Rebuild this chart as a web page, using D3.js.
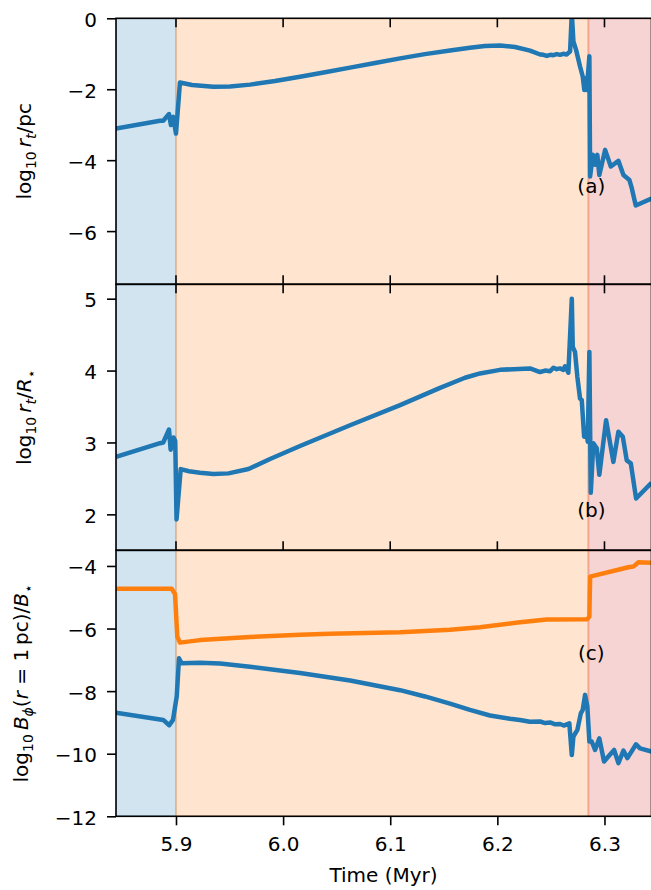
<!DOCTYPE html>
<html>
<head>
<meta charset="utf-8">
<script src="https://cdn.jsdelivr.net/npm/d3@7"></script>
<style>
  body { margin: 0; background: #fff; }
  svg text { font-family: "DejaVu Sans", sans-serif; fill: #000; }
</style>
</head>
<body>
<svg id="fig" width="651" height="890"></svg>
<script>
// ---- data -------------------------------------------------------------
const xTicks = [5.9, 6.0, 6.1, 6.2, 6.3];
const timeRange = [5.844, 6.3439];

// evolutionary phases (shaded bands)
const phaseStart = [5.844, 5.9, 6.285];
const phaseEnd = [5.9, 6.285, 6.3439];

// (a) log10 r_t / pc
const timeRt = [5.8440, 5.8851, 5.8881, 5.8935, 5.8953, 5.8975, 5.9000, 5.9037, 5.9150, 5.9348,
  5.9504, 5.9691, 5.9924, 6.0158, 6.0391, 6.0625, 6.0858, 6.1092, 6.1324, 6.1558, 6.1744, 6.1884,
  6.2025, 6.2165, 6.2305, 6.2399, 6.2430, 6.2461, 6.2495, 6.2523, 6.2555, 6.2585, 6.2615, 6.2648,
  6.2679, 6.2695, 6.2710, 6.2735, 6.2772, 6.2797, 6.2812, 6.2825, 6.2835, 6.2859, 6.2866, 6.2891,
  6.2912, 6.2933, 6.2952, 6.3006, 6.3059, 6.3130, 6.3177, 6.3233, 6.3255, 6.3292, 6.3439];
const logRtPc = [-3.11, -2.89, -2.89, -2.70, -3.01, -2.78, -3.25, -1.81, -1.88, -1.93,
  -1.92, -1.87, -1.77, -1.65, -1.52, -1.39, -1.26, -1.13, -1.01, -0.91, -0.83, -0.78,
  -0.77, -0.81, -0.91, -1.02, -1.03, -1.06, -1.03, -1.04, -1.01, -1.03, -1.00, -1.02,
  -0.93, 0.15, -0.65, -0.89, -1.36, -1.64, -2.02, -1.69, -2.02, -1.07, -4.46, -3.85,
  -4.13, -3.85, -4.42, -3.71, -4.18, -4.02, -4.42, -4.56, -4.79, -5.28, -5.08];

// (b) log10 r_t / R_star
const timeRs = [5.8440, 5.8851, 5.8881, 5.8935, 5.8950, 5.8977, 5.8993, 5.9005, 5.9044, 5.9121,
  5.9224, 5.9350, 5.9490, 5.9677, 5.9878, 6.0158, 6.0625, 6.1092, 6.1465, 6.1698, 6.1838, 6.2025,
  6.2305, 6.2399, 6.2446, 6.2492, 6.2523, 6.2554, 6.2585, 6.2616, 6.2632, 6.2663, 6.2695, 6.2704,
  6.2725, 6.2747, 6.2772, 6.2788, 6.2810, 6.2829, 6.2844, 6.2859, 6.2872, 6.2896, 6.2928, 6.2952,
  6.3015, 6.3083, 6.3130, 6.3171, 6.3208, 6.3246, 6.3295, 6.3439];
const logRtRstar = [2.80, 2.99, 3.00, 3.18, 2.90, 3.07, 3.02, 1.93, 2.63, 2.60,
  2.58, 2.56, 2.57, 2.63, 2.77, 2.95, 3.24, 3.52, 3.76, 3.90, 3.96, 4.01,
  4.03, 3.98, 4.00, 3.99, 4.04, 4.02, 4.03, 4.01, 4.06, 3.97, 5.00, 4.33,
  4.26, 3.91, 3.61, 3.59, 3.08, 3.17, 3.01, 4.26, 2.30, 2.99, 2.92, 2.55,
  3.31, 2.73, 3.15, 3.08, 2.75, 2.71, 2.22, 2.44];

// (c) log10 B_phi(r = 1 pc) / B_star, two field estimates
const timeBphiA = [5.8440, 5.8881, 5.8937, 5.8972, 5.9007, 5.9028, 5.9053, 5.9224, 5.9411, 5.9691,
  6.0158, 6.0625, 6.1092, 6.1324, 6.1558, 6.1744, 6.1931, 6.2118, 6.2211, 6.2305, 6.2399, 6.2446,
  6.2492, 6.2540, 6.2585, 6.2620, 6.2672, 6.2695, 6.2710, 6.2747, 6.2779, 6.2797, 6.2819, 6.2840,
  6.2859, 6.2881, 6.2912, 6.2952, 6.2996, 6.3036, 6.3090, 6.3130, 6.3177, 6.3214, 6.3295, 6.3332,
  6.3439];
const logBphiA = [-8.69, -8.92, -9.09, -8.92, -8.17, -6.95, -7.11, -7.09, -7.12, -7.22,
  -7.42, -7.66, -7.97, -8.17, -8.40, -8.60, -8.78, -8.88, -8.92, -8.98, -8.97, -9.02,
  -9.00, -9.06, -9.05, -9.10, -9.03, -10.04, -9.45, -9.24, -8.71, -8.60, -8.12, -8.49,
  -9.61, -9.61, -9.88, -9.51, -10.25, -10.09, -9.88, -10.30, -9.90, -10.14, -9.70, -9.83,
  -9.93];

const timeBphiB = [5.8440, 5.8960, 5.8991, 5.9012, 5.9037, 5.9224, 5.9691, 6.0158, 6.0439, 6.1092,
  6.1558, 6.1838, 6.2211, 6.2461, 6.2840, 6.2859, 6.2866, 6.3223, 6.3270, 6.3317, 6.3439];
const logBphiB = [-4.73, -4.73, -4.90, -6.26, -6.45, -6.37, -6.27, -6.20, -6.17, -6.12,
  -6.04, -5.96, -5.80, -5.71, -5.70, -5.62, -4.34, -4.04, -4.02, -3.88, -3.90];

const yTicksA = [0, -2, -4, -6];
const yTicksB = [2, 3, 4, 5];
const yTicksC = [-4, -6, -8, -10, -12];
const panelTags = ["(a)", "(b)", "(c)"];

// ---- layout -----------------------------------------------------------
const phaseColors = ["#1f77b4", "#ff7f0e", "#d62728"];
const lineColors = ["#1f77b4", "#ff7f0e"];
const left = 116, right = 651.5;
const panelTop = [18.3, 284.3, 550.3];
const panelH = 266;

const svg = d3.select("#fig");
const x = d3.scaleLinear().domain(timeRange).range([left, right]);

const panels = [
  { domain: [-7.5, 0], ticks: yTicksA, series: [[timeRt, logRtPc]], tag: [6.2877, -4.92] },
  { domain: [1.5, 5.2], ticks: yTicksB, series: [[timeRs, logRtRstar]], tag: [6.2877, 1.96] },
  { domain: [-12, -3.5], ticks: yTicksC, series: [[timeBphiA, logBphiA], [timeBphiB, logBphiB]], tag: [6.2877, -7.0] }
];

panels.forEach((p, i) => {
  const top = panelTop[i], bottom = top + panelH;
  const y = d3.scaleLinear().domain(p.domain).range([bottom, top]);
  const g = svg.append("g");
  const clipId = "clip" + i;
  svg.append("clipPath").attr("id", clipId)
    .append("rect").attr("x", left).attr("y", top).attr("width", right - left).attr("height", panelH);

  // phase bands, filled and edged with the same translucent colour
  const bands = g.append("g").attr("clip-path", `url(#${clipId})`);
  phaseStart.forEach((s, k) => {
    bands.append("rect")
      .attr("x", x(s)).attr("y", top)
      .attr("width", x(phaseEnd[k]) - x(s)).attr("height", panelH)
      .attr("fill", phaseColors[k]).attr("fill-opacity", 0.2)
      .attr("stroke", phaseColors[k]).attr("stroke-opacity", 0.2).attr("stroke-width", 2);
  });

  // curves
  const line = d3.line().x(d => x(d[0])).y(d => y(d[1]));
  const lines = g.append("g").attr("clip-path", `url(#${clipId})`);
  p.series.forEach((s, k) => {
    const pts = s[0].map((t, j) => [t, s[1][j]]);
    lines.append("path").datum(pts)
      .attr("d", line).attr("fill", "none")
      .attr("stroke", lineColors[k]).attr("stroke-width", 4.5)
      .attr("stroke-linejoin", "round").attr("stroke-linecap", "butt");
  });

  // panel tag
  g.append("text").attr("x", x(p.tag[0])).attr("y", y(p.tag[1]))
    .attr("text-anchor", "middle").attr("font-size", 20).text(panelTags[i]);

  // y axis
  const ya = g.append("g").attr("transform", `translate(${left},0)`)
    .call(d3.axisLeft(y).tickValues(p.ticks).tickFormat(d3.format("d")).tickSize(9).tickPadding(10));
  ya.select(".domain").remove();
  ya.selectAll(".tick line").attr("stroke", "#000").attr("stroke-width", 1.6);
  ya.selectAll(".tick text").attr("font-size", 20).attr("font-family", "DejaVu Sans").attr("dy", "0.4em");

  // frame
  g.append("rect").attr("x", left).attr("y", top).attr("width", right - left).attr("height", panelH)
    .attr("fill", "none").attr("stroke", "#000").attr("stroke-width", 1.6);
});

// time ticks along the panel edges
const edgeTicks = [[18.3, 27.3], [275.3, 293.3], [541.3, 550.3]];
edgeTicks.forEach(([a, b]) => {
  svg.append("g").selectAll("line").data(xTicks).join("line")
    .attr("x1", d => x(d)).attr("x2", d => x(d)).attr("y1", a).attr("y2", b)
    .attr("stroke", "#000").attr("stroke-width", 1.6);
});

// bottom time axis
const bottomY = panelTop[2] + panelH;
const xa = svg.append("g").attr("transform", `translate(0,${bottomY})`)
  .call(d3.axisBottom(x).tickValues(xTicks).tickFormat(d3.format(".1f")).tickSize(9).tickPadding(12));
xa.select(".domain").remove();
xa.selectAll(".tick line").attr("stroke", "#000").attr("stroke-width", 1.6);
xa.selectAll(".tick text").attr("font-size", 20).attr("font-family", "DejaVu Sans");

svg.append("text").attr("x", (left + 651) / 2).attr("y", 882)
  .attr("text-anchor", "middle").attr("font-size", 20).text("Time (Myr)");

// y-axis labels in math style
function mathLabel(cx, cy, parts) {
  const t = svg.append("text")
    .attr("transform", `translate(${cx},${cy}) rotate(-90)`)
    .attr("text-anchor", "middle").attr("font-size", 20);
  let shift = 0;
  parts.forEach(pt => {
    const ts = t.append("tspan").text(pt.s);
    const target = pt.sub ? 5 : 0;
    if (target !== shift) { ts.attr("dy", target - shift); shift = target; }
    if (pt.sub) ts.attr("font-size", 14);
    if (pt.it) ts.attr("font-style", "italic");
    if (pt.dx) ts.attr("dx", pt.dx);
  });
}
mathLabel(31, panelTop[0] + panelH / 2, [
  { s: "log" }, { s: "10", sub: true }, { s: "r", it: true, dx: 4 }, { s: "t", it: true, sub: true }, { s: "/pc" }
]);
mathLabel(31, panelTop[1] + panelH / 2, [
  { s: "log" }, { s: "10", sub: true }, { s: "r", it: true, dx: 4 }, { s: "t", it: true, sub: true }, { s: "/" },
  { s: "R", it: true }, { s: "\u22C6", sub: true }
]);
mathLabel(28, panelTop[2] + panelH / 2, [
  { s: "log" }, { s: "10", sub: true }, { s: "B", it: true, dx: 4 }, { s: "\u03D5", it: true, sub: true },
  { s: "(" }, { s: "r", it: true }, { s: " = 1\u2009pc)/" }, { s: "B", it: true }, { s: "\u22C6", sub: true }
]);
</script>
</body>
</html>
